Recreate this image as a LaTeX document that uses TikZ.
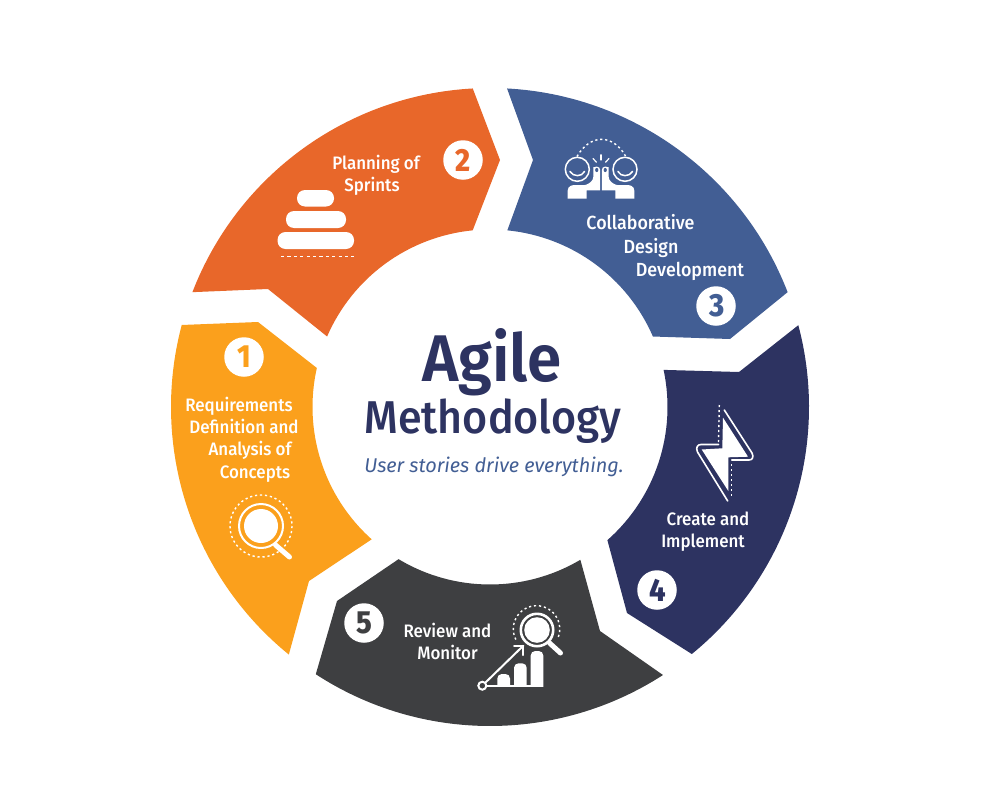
\documentclass[tikz,border=0pt]{standalone}
\usepackage{fontspec}
\setmainfont{Fira Sans}
\newfontfamily\fmed[FakeStretch=0.94]{Fira Sans Medium}
\newfontfamily\ftitle[FakeStretch=0.935]{Fira Sans Medium}
\newfontfamily\fsemi[FakeStretch=0.94]{Fira Sans SemiBold}
\newfontfamily\fnum[FakeStretch=0.9]{Fira Sans ExtraBold}
\usetikzlibrary{calc}
\definecolor{cyellow}{HTML}{FBA01C}
\definecolor{corange}{HTML}{E8672A}
\definecolor{cblue}{HTML}{425E94}
\definecolor{cnavy}{HTML}{2D3361}
\definecolor{cdark}{HTML}{3E3F41}
\tikzset{
  seglabel/.style={anchor=base,text=white,inner sep=0pt,font=\fmed\fontsize{18}{18}\selectfont},
  seglabelbig/.style={seglabel,font=\fmed\fontsize{19}{19}\selectfont},
  numdisc/.style={circle,fill=white,minimum size=39.5pt,inner sep=0pt,font=\fnum\fontsize{32}{32}\selectfont},
  iconline/.style={draw=white,line width=#1,line cap=round,line join=round},
  iconline/.default=1.5pt,
  dots/.style={draw=white,line width=1.4pt,dash pattern=on 2.2pt off 2.8pt},
  title/.style={anchor=base,inner sep=0pt,text=cnavy}
}
\def\Rout{319}
\def\Rin{177.5}
\newcommand\iconbar[3]{\fill[white] (#1,686.8) -- (#1,#3+4.5) arc[start angle=180,end angle=270,radius=4.5] -- (#2-4.5,#3) arc[start angle=270,end angle=360,radius=4.5] -- (#2,686.8) -- cycle;}
\begin{document}
\begin{tikzpicture}[x=1pt,y=-1pt]
\useasboundingbox (0,0) rectangle (1000,800);
\coordinate (c) at (490,407);
% segment 1
\fill[cyellow] ([shift={(c)}]129.1:\Rout) arc[start angle=129.1,end angle=194.9,radius=\Rout]
  -- (258,322) -- ([shift={(c)}]192.7:\Rin) arc[start angle=192.7,end angle=131.8,radius=\Rin]
  -- (309,581) -- cycle;
% segment 2
\fill[corange] ([shift={(c)}]201.1:\Rout) arc[start angle=201.1,end angle=266.9,radius=\Rout]
  -- (500,160) -- ([shift={(c)}]264.4:\Rin) arc[start angle=264.4,end angle=203.4,radius=\Rin]
  -- (268,289) -- cycle;
% segment 3
\fill[cblue] ([shift={(c)}]273.06:\Rout) arc[start angle=273.06,end angle=338.9,radius=\Rout]
  -- (730,339) -- ([shift={(c)}]336.6:\Rin) arc[start angle=336.6,end angle=275.6,radius=\Rin]
  -- (533,160) -- cycle;
% segment 4
\fill[cnavy] ([shift={(c)}]-14.86:\Rout) arc[start angle=-14.86,end angle=50.75,radius=\Rout]
  -- (627,613) -- ([shift={(c)}]48.6:\Rin) arc[start angle=48.6,end angle=-12.07,radius=\Rin]
  -- (739,372) -- cycle;
% segment 5
\fill[cdark] ([shift={(c)}]57.16:\Rout) arc[start angle=57.16,end angle=123.1,radius=\Rout]
  -- (337,601) -- ([shift={(c)}]121:\Rin) arc[start angle=121,end angle=59.4,radius=\Rin]
  -- (600,631) -- cycle;

% centre text
\node[title,font=\fsemi\fontsize{66}{66}\selectfont] (tagile) at (492,381) {Agile};
\node[title,font=\ftitle\fontsize{46}{46}\selectfont] (tmeth) at (493,433) {Methodology};
\node[title,text=cblue,font=\itshape\fontsize{19.9}{20}\selectfont] (tsub) at (494,472) {User stories drive everything.};

% number discs
\node[numdisc,text=cyellow] (n1) at (244,357) {\kern1pt 1};
\node[numdisc,text=corange] (n2) at (463,160) {\kern1pt 2};
\node[numdisc,text=cblue] (n3) at (716,306) {\kern2pt 3};
\node[numdisc,text=cnavy] (n4) at (657,590) {\kern2pt 4};
\node[numdisc,text=cdark] (n5) at (364,623) {5};

% labels
\node[seglabel] (l1a) at (239,411) {Requirements};
\node[seglabel] (l1b) at (244,433) {Definition and};
\node[seglabel] (l1c) at (250,455) {Analysis of};
\node[seglabel] (l1d) at (255,478) {Concepts};
\node[seglabel] (l2a) at (376,169) {Planning of};
\node[seglabel] (l2b) at (372,191) {Sprints};
\node[seglabelbig] (l3a) at (640.5,229) {Collaborative};
\node[seglabelbig] (l3b) at (651,253) {Design};
\node[seglabelbig] (l3c) at (690,276) {Development};
\node[seglabel] (l4a) at (708,525) {Create and};
\node[seglabel] (l4b) at (703,547) {Implement};
\node[seglabel] (l5a) at (447.5,637) {Review and};
\node[seglabel] (l5b) at (447.5,659) {Monitor};

% icon: stack (segment 2)
\fill[white,rounded corners=8pt] (297,190) rectangle (334,206.5);
\fill[white,rounded corners=8pt] (286,211) rectangle (346,228);
\fill[white,rounded corners=8pt] (277.5,232) rectangle (354,249);
\draw[white,line width=0.9pt,dash pattern=on 3.2pt off 3.2pt] (281,256.3) -- (354,256.3);

% icon: magnifier (segment 1)
\fill[white] (261,526) circle (17);
\draw[white,line width=2pt] (261,526) circle (22);
\draw[dots] (261,526) circle (31);
\draw[iconline=5pt] (275.5,545) -- (289.5,557);

% icon: high five (segment 3)
\draw[dots] (577,156.5) .. controls (583,146) and (592,139.3) .. (601.5,139.3) .. controls (611,139.3) and (620,146) .. (625.5,156);
\draw[white,line width=1.5pt] (577.3,169.3) circle (12);
\draw[white,line width=1.5pt] (625,169.3) circle (12);
\draw[white,line width=1.5pt,line cap=round] (570,171.5) .. controls (573,177) and (582,177) .. (584.5,171.5);
\draw[white,line width=1.5pt,line cap=round] (618,171.5) .. controls (620.5,177) and (629.5,177) .. (632.5,171.5);
\foreach \s in {1,-1}{
  \begin{scope}[shift={(601,0)},xscale=\s,shift={(-601,0)}]
  \fill[white,rounded corners=1.5pt] (567.7,198.6) -- (567.7,189) [rounded corners=3pt] -- (570,185.2) -- (586.5,185.2) -- (593.3,180) -- (593.3,170) [rounded corners=0pt] arc[start angle=180,end angle=360,radius=3.45] -- (600.2,190.3) -- (586.7,190.3) -- (586.7,198.6) -- cycle;
  \fill[cblue] (596.75,170) ellipse (1.6 and 2.1);
  \draw[white,line width=1.2pt,line cap=round] (593,158.5) -- (596.5,162.3);
  \end{scope}
}
\draw[white,line width=1.2pt,line cap=round] (601,154.8) -- (601,160);

% icon: lightning (segment 4)
\draw[white,line width=1.6pt,line cap=round,line join=round] (724.3,410) -- (752,453) .. controls (754,457) and (752.5,460) .. (749,460) -- (731.7,460);
\draw[white,line width=1.6pt,line cap=round,line join=round] (727.7,501) -- (697.5,452) .. controls (695.5,447.5) and (697.5,444.5) .. (701,444.5) -- (718.5,444.5);
\fill[white] (723,417.7) -- (748,456.7) -- (728.3,457.3) -- (728.3,491) -- (701.7,449.5) -- (722.3,448.3) -- cycle;
\draw[dots] (719.3,405) -- (718.5,442);
\draw[dots] (731.7,464) -- (731.7,498);

% icon: review (segment 5)
\fill[white] (537,630) circle (12.8);
\draw[white,line width=2.6pt] (537,630) circle (16.2);
\draw[dots] (536.5,629) ++(20:23.3) arc[start angle=20,end angle=-210,radius=23.3];
\draw[iconline=5pt] (549.5,643) -- (560.5,653);
\iconbar{497.3}{510}{674}
\iconbar{514}{526.7}{663.3}
\iconbar{530.7}{543.3}{651}
\draw[white,line width=2pt] (486,686) -- (540,686);
\draw[iconline=2pt] (485.2,682.8) -- (523.3,645.7);
\draw[iconline=2pt] (514,645.7) -- (523.3,645.7) -- (523.3,655);
\draw[white,line width=2pt,fill=cdark] (482.3,685.7) circle (4);
\end{tikzpicture}
\end{document}
